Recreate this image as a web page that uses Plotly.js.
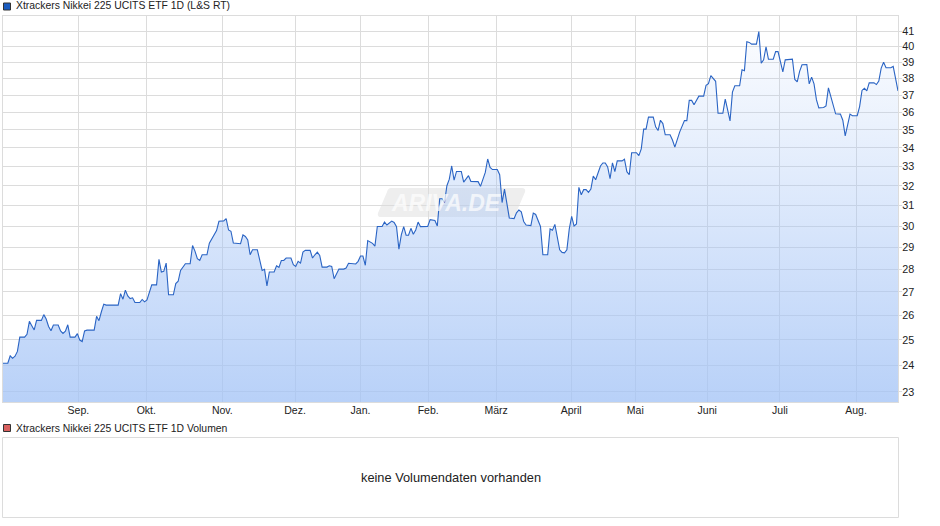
<!DOCTYPE html>
<html>
<head>
<meta charset="utf-8">
<script src="https://cdn.plot.ly/plotly-3.0.1.min.js"></script>
<style>
  html, body { margin: 0; padding: 0; background: #fff; }
  #chart { width: 940px; height: 526px; }
</style>
</head>
<body>
<div id="chart"></div>
<script>
// day number since start of the window, only days where the line changes direction
const days = [
  0,2,3,4,5,6,7,9,10,11,12,13,14,16,17,18,19,20,21,23,24,25,26,27,28,30,31,32,33,34,35,38,39,40,41,42,43,48,49,50,51,52,53,54,55,57,58,59,60,61,
  62,64,65,66,67,68,69,71,72,73,74,76,78,79,80,81,82,83,85,86,87,89,90,92,93,94,95,96,99,100,101,102,103,104,106,107,108,109,110,111,113,114,115,116,117,118,120,121,122,123,
  124,125,126,128,129,130,131,132,133,135,136,137,138,140,142,143,144,147,148,149,150,151,152,154,155,156,158,159,160,162,163,164,165,166,167,168,169,170,171,172,173,174,177,178,180,181,182,183,184,185,
  186,187,188,189,191,192,193,194,195,198,199,201,202,203,204,206,207,208,209,210,211,213,214,215,216,217,218,220,221,222,223,224,225,227,228,229,230,231,232,233,234,235,236,237,238,239,240,241,242,243,244,245,246,247,
  249,250,251,252,253,254,255,256,258,259,260,261,262,264,265,266,267,268,269,271,272,273,274,275,276,278,279,280,281,282,284,285,286,287,288,289,290,292,293,294,295,297,298,300,301,302,303,304,305,307,308,309,
  310,311,312,314,315,316,317,318,319,321,322,323,324,325,326,328,329,330,331,332,333,335,336,337,338,339,340,342,343,344,346,347,349,350,351,353,354,356,357,358,359,360,361,363,364,365,366,367,368,370,371,373
];
const closes = [
  24.08,24.08,24.37,24.27,24.35,24.54,25.11,25.11,25.22,25.75,25.57,25.40,25.79,25.79,26.03,25.85,25.54,25.37,25.60,25.60,25.36,25.26,25.35,25.61,25.11,25.11,25.25,24.99,24.93,25.36,25.39,25.39,25.96,25.78,26.15,26.47,26.43,26.43,26.92,26.68,27.07,26.82,26.71,26.74,26.54,26.54,26.67,26.57,26.65,26.96,
  27.30,27.30,28.44,27.87,27.90,28.27,26.87,26.87,27.36,27.46,27.94,28.24,28.24,29.08,28.82,28.47,28.39,28.65,28.65,29.19,29.38,29.78,30.23,30.25,30.36,29.81,29.75,29.19,29.16,29.58,29.50,29.34,28.65,28.88,28.88,28.42,27.94,27.99,27.26,27.87,27.87,28.15,28.08,28.39,28.39,28.50,28.50,28.20,28.12,28.35,
  28.27,28.77,28.85,28.85,28.50,28.65,28.77,28.62,28.09,28.09,28.15,28.12,27.57,28.00,28.00,28.05,28.26,28.23,28.35,28.59,28.59,28.17,29.31,29.18,29.05,29.98,29.98,30.19,30.05,30.24,30.17,29.97,28.91,29.58,29.97,29.56,29.56,29.89,29.61,29.81,30.19,29.97,29.98,30.31,30.27,30.00,31.34,31.34,31.14,32.00,
  32.34,33.03,32.29,32.74,32.74,32.19,32.36,32.52,32.22,32.21,31.97,32.69,33.40,32.95,32.84,32.84,32.57,31.15,31.83,30.98,30.39,30.36,30.64,30.78,30.69,30.22,30.05,30.02,30.63,30.56,30.31,29.98,28.65,28.65,29.86,29.80,30.08,29.42,28.88,28.76,28.74,28.88,29.86,30.47,30.00,30.10,31.92,31.54,31.80,31.80,31.66,31.83,32.50,32.31,
  33.03,33.19,33.19,32.98,32.36,33.19,32.73,33.30,33.30,33.39,32.73,32.57,33.74,33.74,33.58,33.95,35.04,35.04,35.72,35.72,35.17,34.96,35.54,35.35,34.72,34.72,34.43,34.04,34.46,34.87,35.52,35.52,36.69,36.69,36.43,36.69,36.94,36.94,37.58,37.69,38.17,37.83,35.94,35.94,36.76,36.13,35.50,37.18,37.56,37.56,38.54,38.48,
  40.30,40.26,40.15,40.15,40.96,38.94,39.15,39.98,39.19,39.19,39.67,39.67,39.04,38.40,39.15,39.15,39.19,37.94,37.80,38.44,38.84,38.86,37.67,38.08,37.67,36.73,36.25,36.27,36.37,37.43,36.43,35.91,35.89,35.54,34.66,35.89,35.80,35.80,36.33,37.28,37.41,37.25,37.73,37.73,37.63,37.84,38.64,39.00,38.66,38.66,38.74,37.25
];
const monthDays = [31.4, 59.7, 91.4, 121.7, 149, 177.2, 205.5, 236.8, 263.5, 293.5, 323.8, 355.5];
const monthLabels = ['Sep.', 'Okt.', 'Nov.', 'Dez.', 'Jan.', 'Feb.', 'März', 'April', 'Mai', 'Juni', 'Juli', 'Aug.'];
const priceTicks = [23,24,25,26,27,28,29,30,31,32,33,34,35,36,37,38,39,40,41];

const W = 940, H = 526;
const FONT = '"Liberation Sans", Arial, sans-serif';
const GRID = '#dcdcdc';
const px = x => x / W;
const py = y => 1 - y / H;

const priceTrace = {
    x: days,
    y: closes,
    type: 'scatter',
    mode: 'lines',
    fill: 'tozeroy',
    fillgradient: {
        type: 'vertical',
        start: 22.63,
        stop: 41,
        colorscale: [[0, 'rgba(163,195,246,0.77)'], [1, 'rgba(163,195,246,0.04)']],
    },
    line: { color: '#2a64c4', width: 1.1 },
    hoverinfo: 'skip',
};

const legendLabel = (text, y) => ({
    text: text, xref: 'paper', yref: 'paper', x: px(14), y: py(y),
    xanchor: 'left', yanchor: 'middle', showarrow: false,
    font: { family: FONT, size: 10.4, color: '#222' },
});

const swatch = (y, color) => ({
    type: 'rect', xref: 'paper', yref: 'paper', layer: 'above',
    x0: px(3.5), x1: px(10.5), y0: py(y - 3.5), y1: py(y + 3.5),
    fillcolor: color, line: { color: '#333', width: 1 },
});

const layout = {
    width: W,
    height: H,
    margin: { l: 0, r: 0, t: 0, b: 0 },
    paper_bgcolor: '#fff',
    plot_bgcolor: 'rgba(0,0,0,0)',
    showlegend: false,
    xaxis: {
        domain: [px(3), px(898)],
        range: [0, 373],
        tickmode: 'array',
        tickvals: monthDays,
        ticktext: monthLabels,
        ticks: '',
        ticklabelstandoff: -2,
        showgrid: true,
        gridcolor: GRID,
        gridwidth: 1,
        zeroline: false,
        showline: true,
        mirror: true,
        linecolor: GRID,
        tickfont: { family: FONT, size: 10.5, color: '#222' },
    },
    yaxis: {
        domain: [py(402), py(16)],
        type: 'log',
        range: [Math.log10(22.63), Math.log10(42.0)],
        side: 'right',
        tickmode: 'array',
        tickvals: priceTicks,
        ticktext: priceTicks.map(String),
        ticks: 'outside',
        ticklen: 3,
        ticklabelstandoff: -2,
        tickcolor: GRID,
        showgrid: true,
        gridcolor: GRID,
        gridwidth: 1,
        zeroline: false,
        showline: true,
        mirror: true,
        linecolor: GRID,
        tickfont: { family: FONT, size: 10.8, color: '#222' },
    },
    shapes: [
        swatch(6.5, '#1a5cc0'),
        swatch(428, '#d9605f'),
        // empty volume panel
        { type: 'rect', xref: 'paper', yref: 'paper', x0: px(2.5), x1: px(898.5), y0: py(437.5), y1: py(517.5),
          fillcolor: '#fff', line: { color: GRID, width: 1 } },
        // logo plate behind the price line
        { type: 'path', xref: 'paper', yref: 'paper', layer: 'below',
          path: 'M ' + px(391) + ' ' + py(188) + ' L ' + px(522) + ' ' + py(188) + ' Q ' + px(526) + ' ' + py(188) + ' ' + px(525) + ' ' + py(192) +
                ' L ' + px(516) + ' ' + py(213) + ' Q ' + px(514) + ' ' + py(217) + ' ' + px(510) + ' ' + py(217) +
                ' L ' + px(381) + ' ' + py(217) + ' Q ' + px(377) + ' ' + py(217) + ' ' + px(378) + ' ' + py(213) +
                ' L ' + px(387) + ' ' + py(192) + ' Q ' + px(388) + ' ' + py(188) + ' ' + px(391) + ' ' + py(188) + ' Z',
          fillcolor: '#eeeeee', line: { width: 0 } },
    ],
    annotations: [
        legendLabel('Xtrackers Nikkei 225 UCITS ETF 1D (L&amp;S RT)', 5.5),
        legendLabel('Xtrackers Nikkei 225 UCITS ETF 1D Volumen', 428),
        { text: 'keine Volumendaten vorhanden', xref: 'paper', yref: 'paper', x: px(451), y: py(477.5),
          xanchor: 'center', yanchor: 'middle', showarrow: false,
          font: { family: FONT, size: 12.8, color: '#222' } },
        { text: '<b><i>ARIVA.DE</i></b>', xref: 'paper', yref: 'paper', x: px(446), y: py(203),
          xanchor: 'center', yanchor: 'middle', showarrow: false, opacity: 0.7,
          font: { family: FONT, size: 23, color: '#fff' } },
    ],
};

Plotly.newPlot('chart', [priceTrace], layout, { displayModeBar: false, staticPlot: true });
</script>
</body>
</html>
